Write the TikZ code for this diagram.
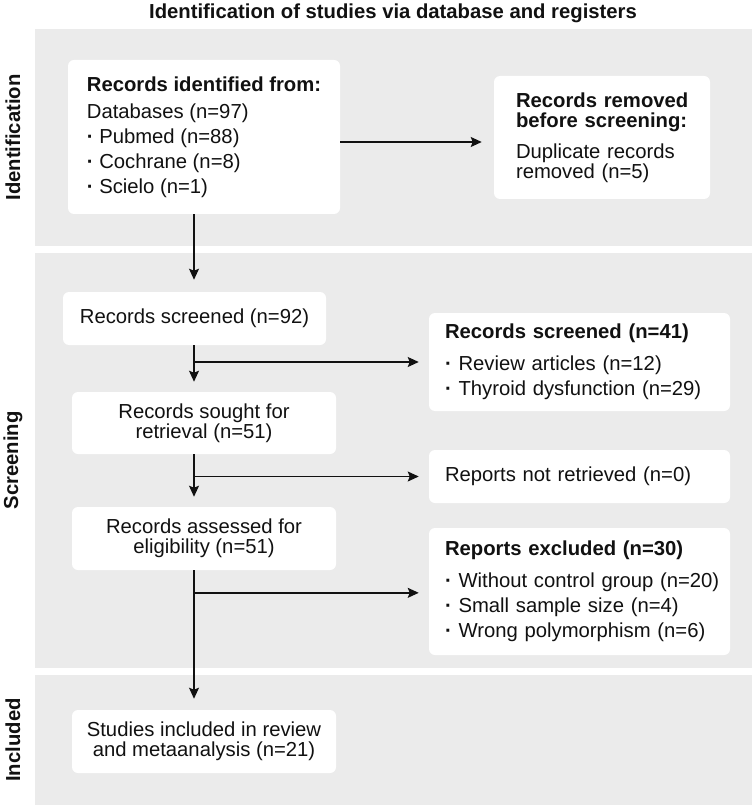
\documentclass[tikz,border=0pt]{standalone}
\usepackage{fontspec}
\setmainfont{Liberation Sans}
\usetikzlibrary{arrows.meta}
\definecolor{bandgray}{HTML}{EBEBEB}
\definecolor{ink}{HTML}{111111}
\newcommand\bul{{\bfseries\textperiodcentered}\ }
\hfuzz=100pt
\begin{document}
\begin{tikzpicture}[x=0.75pt,y=-0.75pt,
  bandbox/.style={fill=bandgray, draw=none},
  box/.style={fill=white, draw=none, rounded corners=4.5pt, inner sep=0pt,
    font=\fontsize{15.2}{15}\selectfont, text=ink},
  lbox/.style={box, align=left},
  cbox/.style={box, align=center},
  side/.style={rotate=90, font=\fontsize{15.2}{15.2}\selectfont\bfseries, text=ink},
  arr/.style={draw=ink, line width=1pt, -{Stealth[length=8.25pt,width=7.5pt,inset=1.5pt]}},
  ttl/.style={font=\fontsize{15.2}{15.2}\selectfont\bfseries, text=ink}]
\useasboundingbox (0,0) rectangle (755,809);
\fill[white] (0,0) rectangle (755,809);
% bands
\path[bandbox] (35,29) rectangle (752,246);
\path[bandbox] (35,253) rectangle (752,668);
\path[bandbox] (35,675) rectangle (752,805);
% title and side labels
\node[ttl] (title) at (393,13) {Identification of studies via database and registers};
\node[side] (sid) at (13,137.5) {Identification};
\node[side] (sscr) at (13,460.5) {Screening};
\node[side] (sinc) at (13,740) {Included};
% boxes
\node[lbox, minimum width=204pt, minimum height=115.5pt] (A) at (204,137)
  {\textbf{Records identified from:}\\[5.25pt]
   Databases (n=97)\\[3.75pt]
   \bul Pubmed (n=88)\\[3.75pt]
   \bul Cochrane (n=8)\\[3.75pt]
   \bul Scielo (n=1)};
\node[lbox, text width=129pt, minimum width=162pt, minimum height=92.25pt] (B) at (602,137.5)
  {\mbox{\textbf{Records removed}}\\
   \mbox{\textbf{before screening:}}\\[8.25pt]
   \mbox{Duplicate records}\\
   \mbox{removed (n=5)}};
\node[cbox, minimum width=197.25pt, minimum height=39.75pt] (C) at (194.5,318.5)
  {Records screened (n=92)};
\node[lbox, text width=201.75pt, minimum width=225.75pt, minimum height=73.5pt] (D) at (579.5,362)
  {\mbox{\textbf{Records screened (n=41)}}\\[9pt]
   \mbox{\bul Review articles (n=12)}\\[3.75pt]
   \mbox{\bul Thyroid dysfunction (n=29)}};
\node[cbox, minimum width=198pt, minimum height=46.5pt] (E) at (204,423)
  {Records sought for\\retrieval (n=51)};
\node[lbox, text width=201.75pt, minimum width=225.75pt, minimum height=39.75pt] (F) at (579.5,476.5)
  {\mbox{Reports not retrieved (n=0)}};
\node[cbox, minimum width=198pt, minimum height=47.25pt] (G) at (204,538.5)
  {Records assessed for\\eligibility (n=51)};
\node[lbox, text width=201.75pt, minimum width=225.75pt, minimum height=95.25pt] (H) at (579.5,591.5)
  {\mbox{\textbf{Reports excluded (n=30)}}\\[9pt]
   \mbox{\bul Without control group (n=20)}\\[3.75pt]
   \mbox{\bul Small sample size (n=4)}\\[3.75pt]
   \mbox{\bul Wrong polymorphism (n=6)}};
\node[cbox, minimum width=198pt, minimum height=47.25pt] (I) at (204,741.5)
  {Studies included in review\\and metaanalysis (n=21)};
% connectors
\coordinate (spine) at (194,0);
\draw[arr, shorten >=9pt] ([yshift=-3.75pt]A.east) -- ([yshift=-3.75pt]A.east -| B.west);
\draw[arr, shorten >=9pt] (A.south -| spine) -- (C.north -| spine);
\draw[arr, shorten >=7.5pt] (C.south -| spine) -- (E.north -| spine);
\draw[arr, shorten >=7.5pt] (E.south -| spine) -- (G.north -| spine);
\draw[arr, shorten >=8.25pt] (G.south -| spine) -- (I.north -| spine);
\draw[arr, shorten >=7.5pt] (D.west -| spine) -- (D.west);
\draw[arr, shorten >=7.5pt] (F.west -| spine) -- (F.west);
\draw[arr, shorten >=7.5pt] ([yshift=-1pt]H.west -| spine) -- ([yshift=-1pt]H.west);
\end{tikzpicture}
\end{document}
